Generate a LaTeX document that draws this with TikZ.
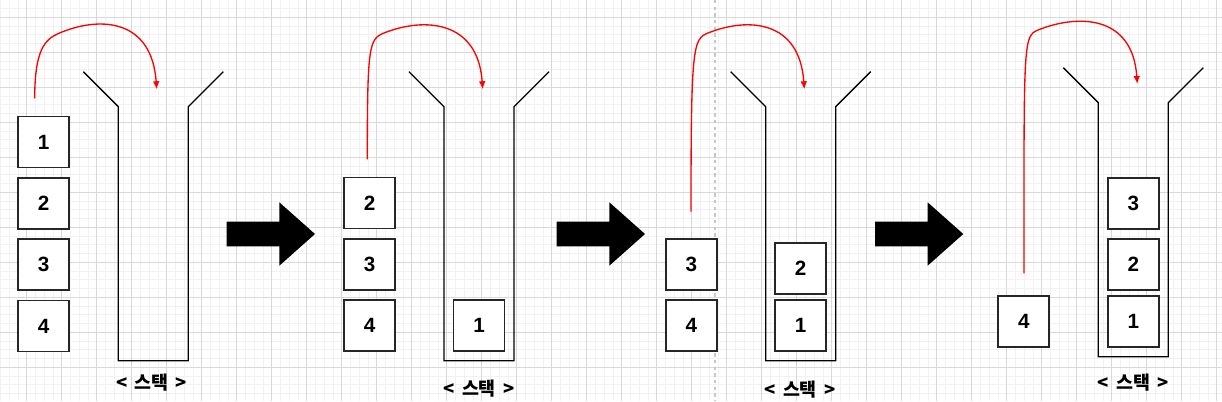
\documentclass[tikz,border=0pt]{standalone}
\usepackage{fontspec}
\setmainfont{Liberation Sans}
\newfontfamily\kofont{Noto Sans CJK KR}
\usetikzlibrary{arrows.meta,positioning}

\begin{document}
\begin{tikzpicture}[
  x=0.75pt, y=-0.75pt,
  node distance=6.3pt,
  card/.style={draw=black!85, line width=1.4pt, fill=white, minimum width=38.3pt,
               minimum height=38.3pt, inner sep=0pt,
               font=\fontsize{15.5}{18}\selectfont\bfseries},
  tube/.style={line width=1pt, line join=miter},
  push/.style={red, line width=1pt, -{Latex[length=6pt,width=5pt]}},
  caption/.style={font=\kofont\fontsize{13.8}{16}\selectfont\bfseries},
  gridminor/.style={black!5, line width=0.6pt},
  gridmajor/.style={black!15, line width=0.75pt},
  pagebreak/.style={black!22, line width=1.1pt, dash pattern=on 2.5pt off 2.5pt}
]
\useasboundingbox (0,0) rectangle (1222,401);
\fill[white] (0,0) rectangle (1222,401);

% background grid
\foreach \gx in {-8.3,0.45,...,1222} \draw[gridminor] (\gx,0) -- (\gx,401);
\foreach \gy in {-0.2,8.55,...,401} \draw[gridminor] (0,\gy) -- (1222,\gy);
\foreach \gx in {-8.3,26.7,...,1222} \draw[gridmajor] (\gx,0) -- (\gx,401);
\foreach \gy in {17.3,52.3,...,401} \draw[gridmajor] (0,\gy) -- (1222,\gy);
\draw[pagebreak] (715,0) -- (715,401);

% the four stacks
\foreach \sx/\sy in {83.3/0, 409/0, 730.7/0, 1063.3/-4}
  \draw[tube] (\sx,71.7+\sy) -- ++(35,35) -- ++(0,254) -- ++(70,0) -- ++(0,-254) -- ++(35,-35);

% big black arrows between the steps
\foreach \ax in {226.7,556.7,875}
  \fill (\ax,221.7) -- ++(52.6,0) -- ++(0,-19.4) -- ++(35.7,31.7) -- ++(-35.7,31.7)
        -- ++(0,-19.4) -- ++(-52.6,0) -- cycle;

% step 1
\node[card] (a1) at (43.7,142) {1};
\node[card, below=of a1] (a2) {2};
\node[card, below=of a2] (a3) {3};
\node[card, below=of a3] (a4) {4};
\node[caption] (cap1) at (151.7,382.7) {< \,스택\, >};

% step 2
\node[card] (b2) at (369.7,203) {2};
\node[card, below=of b2] (b3) {3};
\node[card, below=of b3] (b4) {4};
\node[card] (b1) at (479,325.5) {1};
\node[caption] (cap2) at (479,388.3) {< \,스택\, >};

% step 3
\node[card] (c3) at (691.3,264.3) {3};
\node[card, below=of c3] (c4) {4};
\node[card] (c1) at (800.7,325.5) {1};
\node[card, above=3.2pt of c1] (c2) {2};
\node[caption] (cap3) at (800,389.3) {< \,스택\, >};

% step 4
\node[card] (d4) at (1023.8,321.2) {4};
\node[card] (d1) at (1133.3,321.2) {1};
\node[card, above=2.8pt of d1] (d2) {2};
\node[card, above=of d2] (d3) {3};
\node[caption] (cap4) at (1133.3,382.7) {< \,스택\, >};

% push arrows
\coordinate (from1) at (34.7,98.3);
\coordinate (bend1) at (62,32);
\coordinate (to1) at (156.7,89.3);
\coordinate (from2) at (367.3,159.3);
\coordinate (bend2) at (384,33);
\coordinate (to2) at (482.7,89.3);
\coordinate (from3) at (691,211.7);
\coordinate (bend3) at (708,33);
\coordinate (to3) at (804.3,89.3);
\coordinate (from4) at (1024,273.3);
\coordinate (bend4) at (1038,30);
\coordinate (to4) at (1137.3,84);

\draw[push] (from1) .. controls +(0,-53.3) and +(-15,6) .. (bend1)
                    .. controls +(40,-16) and +(-4.7,-69.3) .. (to1);
\draw[push] (from2) .. controls +(0,-114) and +(-15,6) .. (bend2)
                    .. controls +(40,-16) and +(-4.7,-69.3) .. (to2);
\draw[push] (from3) .. controls +(0,-166) and +(-15,6) .. (bend3)
                    .. controls +(40,-16) and +(-4.7,-69.3) .. (to3);
\draw[push] (from4) .. controls +(0,-230) and +(-15,6) .. (bend4)
                    .. controls +(40,-16) and +(-4.7,-69.3) .. (to4);
\end{tikzpicture}
\end{document}
